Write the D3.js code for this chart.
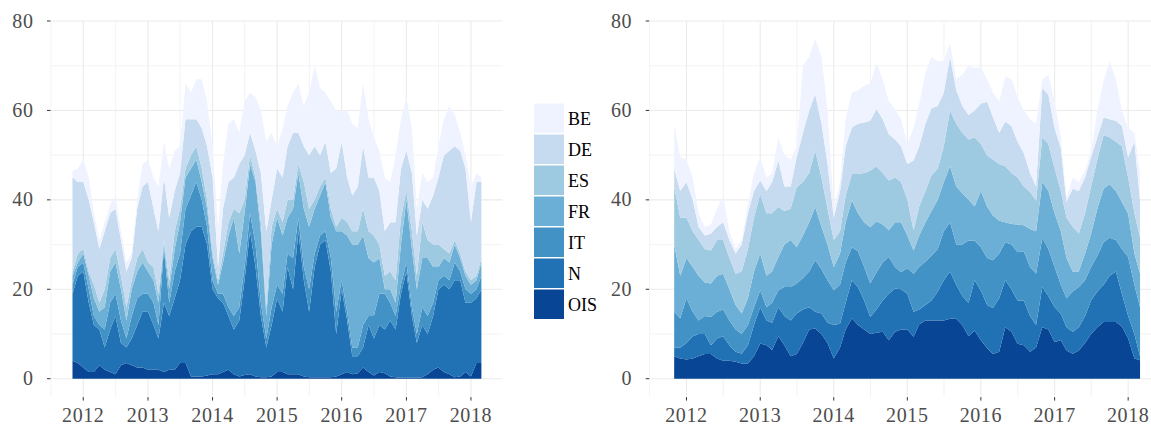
<!DOCTYPE html>
<html>
<head>
<meta charset="utf-8">
<script src="https://cdn.jsdelivr.net/npm/d3@7"></script>
<style>
  body { margin: 0; background: #fff; }
  svg { display: block; }
</style>
</head>
<body>
<svg id="chart" width="1151" height="425"></svg>
<script>
// Series, bottom of the stack first
const seriesNames = ["OIS", "N", "IT", "FR", "ES", "DE", "BE"];
const seriesColors = ["#084594", "#2171b5", "#4292c6", "#6baed6", "#9ecae1", "#c6dbef", "#eff3ff"];
const yearTicks = [2012, 2013, 2014, 2015, 2016, 2017, 2018];
const yTicks = [0, 20, 40, 60, 80];
const yMinor = [10, 30, 50, 70];

// monthly observations, Nov 2011 .. Mar 2018
const months = d3.timeMonth.range(new Date(2011, 10, 1), new Date(2018, 2, 2));

// Left panel
const leftOIS = [4,3.5,2.5,1.5,1.5,3,2,1.5,1,3,
  3.5,3,2.5,2.5,2,2,2,1.5,2,2,
  3.5,3.5,0.5,0.5,0.5,0.7,1,1,1.5,2,
  1,0.5,0.8,1,0.5,0.3,0.3,0.5,1.5,1.5,
  1,1,1,0.5,0.3,0.3,0.3,0.3,0.3,0.5,
  1,1.5,1,1.2,2.5,1.5,0.7,1.5,1.2,0.5,
  0.3,0.2,0.2,0.2,0.2,0.3,1,2,2.5,1.5,
  1,0.3,0.5,1.5,0.5,3.5,3.5];
const leftN = [15,19.5,21.5,15.5,10.5,8,5,9.5,13,5,
  3.5,6,9.5,12.5,13,10,7,15.5,12,16,
  18.5,26.5,32.5,33.5,33.5,29.3,19,17,15.5,12,
  10,12.5,21.2,32,24.5,13.7,6.7,11.5,16.5,13.5,
  24,19,32,21.5,14.7,24.7,29.7,30.7,23.7,9.5,
  19,11.5,4,3.8,4.5,10.5,8.3,10.5,9.8,12.5,
  10.7,18.8,23.8,13.8,7.8,11.7,9,12,17.5,19.5,
  19,21.7,21.5,15.5,16.5,14.5,16.5];
const leftIT = [2,2,2,3,2,1,4,6,5,5,
  2,5,6,4,4,5,3,12,3,6,
  6,8,8,10,6,4,2,1,2,2,
  3,3,3,4,5,3,2,4,3,4,
  3,7,3,3,5,3,2,2,3,5,
  2,2,2,2,5,2,5,7,8,4,
  3,2,2,2,2,4,4,3,2,2,
  2,4,2,3,2,2,3];
const leftFR = [2,1,2,3,4,3,5,7,7,7,
  4,6,6,7,5,5,5,1,3,5,
  7,7,6,5,4,4,5,2,7,16,
  22,12,12,11,14,16,5,14,15,13,
  8,11,10,13,14,10,9,11,9,18,
  11,17,23,23,20,13,12,8,1,3,
  3,9,14,13,10,11,13,8,3,4,
  4,4,3,3,2,2,3];
const leftES = [1,2,1,1,3,2,4,3,3,3,
  3,2,3,3,2,3,2,1,2,4,
  3,2,3,3,3,2,1,1,2,3,
  2,9,3,2,1,2,2,4,2,3,
  4,2,2,6,4,2,2,1,2,1,
  3,3,3,3,6,6,6,3,3,4,
  5,6,2,4,3,8,4,5,5,2,
  2,1,1,1,1,1,1];
const leftDE = [21,16,15,16,14,12,13,10,9,8,
  8,5,11,14,18,13,14,14,14,9,
  8,11,8,6,9,12,17,3,10,9,
  7,11,10,5,6,11,17,6,9,10,
  12,15,7,8,12,12,7,8,8,13,
  17,10,8,10,14,12,13,12,10,11,
  13,11,9,13,9,5,7,11,15,21,
  23,21,23,23,13,21,17];
const leftBE = [1.5,3,5,5,2,2,2,2,3,2,
  2,1,2,5,5,7,10,8,11,9,
  6,8,6,9,11,10,7,9,10,13,
  13,7,12,9,12,14,20,15,5,11,
  9,9,11,9,14,18,15,11,16,13,
  7,15,16,13,14,13,9,9,12,9,
  15,11,12,10,6,6,6,4,7,8,
  10,7,4,3,8,2,1];

// Right panel
const rightOIS = [5,4.5,4.3,4.5,5,5.5,5.5,4.5,4,4,
  3.8,3.4,3.4,5,7.9,7.5,6.4,9.5,7.5,5,
  5.5,8,11,11.2,10,8,4.5,7,11,13.5,
  12,11,10,10.3,10.5,8.6,10.5,11,11,9.4,
  12.2,13,13,13,13,13.4,13.4,12,9.5,10.8,
  8.6,6.8,5.5,6,11.5,10.5,7.8,7.5,6,7,
  11.5,11,8.2,8.6,6.3,5.6,6.3,8,10,11.5,
  12.7,12.7,12.7,11.7,9,4.5,4.1];
const rightN = [2,2.5,3.7,5,5,4.5,2,4.5,5.5,3.5,
  2.2,2.2,4.1,7,8.1,5.5,6.1,6.5,6.5,8,
  9.1,7.5,5,3.8,4.6,4.5,7.5,5.3,6,8.5,
  8.5,6.5,3.8,5.2,7,10.4,9.7,9,8,5.6,
  3.3,3.5,4.5,6.5,9,10.6,7.6,6.5,7.5,11.2,
  11.1,9.7,10.3,12,10.5,9.5,9.7,10,8,5,
  9,7.5,7.8,5.9,5.2,4.9,5.2,6,7.5,8,
  8.3,10.3,11.3,7.3,5,5.5,0.9];
const rightIT = [8,6.5,10,5.5,3,4,6.3,6,6,5.5,
  5,4.4,4.5,4,3.8,3,4.5,3.8,6.5,7.5,
  6.7,7,8,11.5,9.9,9.5,7.8,8.7,9,7.4,
  8,7.5,7.5,8.3,8.5,8.2,4.8,3.8,5.7,8.5,
  9.5,9.7,10,9.5,11,11,9,11.5,13.9,8.9,
  9.7,10.5,10.7,10,8.5,10,10.8,11,11,11.5,
  11,10.5,9,6.5,6.5,9,9,8,7.5,8,
  9.5,8.5,7,10,13.2,11,11];
const rightFR = [15,9.5,9,10,10,7.5,7.5,8,8,7,
  5.5,4.6,6,8,8.2,7,7,7.4,9.5,10.5,
  8.1,9.5,11,11.9,9.5,8,5.2,7,9,10.5,
  8.5,10,12.6,11.4,8.5,6,10,11.2,7.3,5.2,
  7,8.8,10,11,11,12.5,13,11.5,9.1,7.6,
  12.6,11.5,10,7.3,4.5,4.6,6.2,5.8,8.5,9.5,
  12.5,13,12,12,9,4.5,3.5,6,7.4,10.5,
  12,12,11,10.5,9.7,7,7.5];
const rightES = [13,13,9,8,8,7.5,7.4,8,7.5,7,
  7,9.4,11,12,13.3,14,13,11.2,7.5,7,
  13.4,12,11,12.6,11,8,6,5,6,5.9,
  8.8,11,12.6,12.3,11.5,11.1,10,9,8,4.5,
  6.5,7,8,7,8,12.5,14,13.5,13.5,15.5,
  10.5,11.5,12.5,12.7,12.5,11.4,10.5,8.7,8.3,6.8,
  10,10.5,10,9,9,10,8.5,9,10.6,11,
  12,10.5,11,12.5,8.1,9,8.1];
const rightDE = [4,6,8,7,3,3,3.7,3,4,4,
  4.5,6,8,6,3,5,7,10.4,5.5,5,
  6.7,11,14,12.6,12,10,5,9,11,10.4,
  11.2,11.3,11.2,12.8,12,10.4,8.5,8,8,15.6,
  13.5,15,15,14,12,12,7.5,6,5.5,6,
  9,12,9.5,7,10,10.5,8,7.5,4.2,3.2,
  11,11,9,9.5,3.5,8.5,9.5,8,6.5,5,
  3.9,4,4.7,4.5,4.5,16,8.2];
const rightBE = [10,7.5,5,5,3,2,2.1,4,6,2,
  1,1,2,4,5.2,3,2,5.2,7,6,
  2.5,15,12,12.4,15,12,2,2,6,7.8,
  7.5,8.2,8.3,10.2,9,7.3,6.8,6,4.5,7.2,
  9.5,11.5,11.5,10,7,3,2.5,7,11,9.5,
  8.1,5,5.5,7,10,10.5,10,9.5,12,14,
  2,4.5,6,2.5,1,2.5,2,1.5,1.5,6,
  8.2,13,9.3,3.5,6.5,2,6];

const leftSeries = [leftOIS, leftN, leftIT, leftFR, leftES, leftDE, leftBE];
const rightSeries = [rightOIS, rightN, rightIT, rightFR, rightES, rightDE, rightBE];

const svg = d3.select("#chart");
const fontAxis = "'Liberation Serif', 'Times New Roman', serif";

// shared vertical scale (panel runs from -4 to 80)
const yScale = d3.scaleLinear().domain([0, 80]).range([378.7, 21]);
const panelBottom = yScale(-4);

// year as a date (fractional years for the panel edges)
function yearDate(y) {
  const yr = Math.floor(y);
  const start = new Date(yr, 0, 1), end = new Date(yr + 1, 0, 1);
  return new Date(+start + (y - yr) * (end - start));
}

function drawPanel(series, xRange) {
  const xScale = d3.scaleTime()
    .domain([yearDate(2011.5), yearDate(2018.49)])
    .range(xRange);

  const g = svg.append("g");

  // grid: minor first, then major
  const minorYears = d3.range(2011, 2019).map(y => new Date(y, 6, 2))
    .filter(d => d <= xScale.domain()[1]);
  g.selectAll(".vminor").data(minorYears).enter().append("line")
    .attr("x1", d => xScale(d)).attr("x2", d => xScale(d))
    .attr("y1", yScale(80)).attr("y2", panelBottom)
    .style("stroke", "#f0f0f0").style("stroke-width", 0.8);
  g.selectAll(".hminor").data(yMinor).enter().append("line")
    .attr("x1", xRange[0]).attr("x2", xRange[1])
    .attr("y1", d => yScale(d)).attr("y2", d => yScale(d))
    .style("stroke", "#f0f0f0").style("stroke-width", 0.8);
  g.selectAll(".vmajor").data(yearTicks).enter().append("line")
    .attr("x1", d => xScale(new Date(d, 0, 1))).attr("x2", d => xScale(new Date(d, 0, 1)))
    .attr("y1", yScale(80)).attr("y2", panelBottom)
    .style("stroke", "#ebebeb").style("stroke-width", 1.1);
  g.selectAll(".hmajor").data(yTicks).enter().append("line")
    .attr("x1", xRange[0]).attr("x2", xRange[1])
    .attr("y1", d => yScale(d)).attr("y2", d => yScale(d))
    .style("stroke", "#ebebeb").style("stroke-width", 1.1);

  // stacked areas
  const rows = months.map((m, i) => {
    const r = { date: m };
    seriesNames.forEach((s, k) => { r[s] = series[k][i]; });
    return r;
  });
  const stacked = d3.stack().keys(seriesNames)(rows);
  const area = d3.area()
    .x(d => xScale(d.data.date))
    .y0(d => yScale(d[0]))
    .y1(d => yScale(d[1]));
  g.selectAll(".layer").data(stacked).enter().append("path")
    .attr("d", area)
    .attr("fill", (d, i) => seriesColors[i]);

  // axes ticks and labels
  g.selectAll(".xtick").data(yearTicks).enter().append("line")
    .attr("x1", d => xScale(new Date(d, 0, 1))).attr("x2", d => xScale(new Date(d, 0, 1)))
    .attr("y1", panelBottom + 0.5).attr("y2", panelBottom + 4)
    .style("stroke", "#333").style("stroke-width", 1);
  g.selectAll(".xlab").data(yearTicks).enter().append("text")
    .attr("x", d => xScale(new Date(d, 0, 1)))
    .attr("y", 421.5)
    .attr("text-anchor", "middle")
    .style("font-family", fontAxis).style("font-size", "20px")
    .style("letter-spacing", "0.6px").style("fill", "#4d4d4d")
    .text(d => d);

  g.selectAll(".ytick").data(yTicks).enter().append("line")
    .attr("x1", xRange[0] - 4).attr("x2", xRange[0] - 0.5)
    .attr("y1", d => yScale(d)).attr("y2", d => yScale(d))
    .style("stroke", "#333").style("stroke-width", 1);
  g.selectAll(".ylab").data(yTicks).enter().append("text")
    .attr("x", xRange[0] - 17.5)
    .attr("y", d => yScale(d))
    .attr("dy", "0.33em")
    .attr("text-anchor", "end")
    .style("font-family", fontAxis).style("font-size", "20px")
    .style("letter-spacing", "0.6px").style("fill", "#4d4d4d")
    .text(d => d);
}

drawPanel(leftSeries, [51, 502.6]);
drawPanel(rightSeries, [649.7, 1164.2]);

// Legend (top entry is the top of the stack)
const legend = svg.append("g");
const legendItems = seriesNames.map((s, i) => ({ name: s, color: seriesColors[i] })).reverse();
legend.selectAll("rect").data(legendItems).enter().append("rect")
  .attr("x", 534).attr("y", (d, i) => 103.5 + i * 31)
  .attr("width", 30).attr("height", 29.5)
  .attr("fill", d => d.color);
legend.selectAll("text").data(legendItems).enter().append("text")
  .attr("x", 568).attr("y", (d, i) => 103.5 + i * 31 + 14.75)
  .attr("dy", "0.35em")
  .style("font-family", fontAxis).style("font-size", "18px").style("fill", "#000")
  .text(d => d.name);
</script>
</body>
</html>
